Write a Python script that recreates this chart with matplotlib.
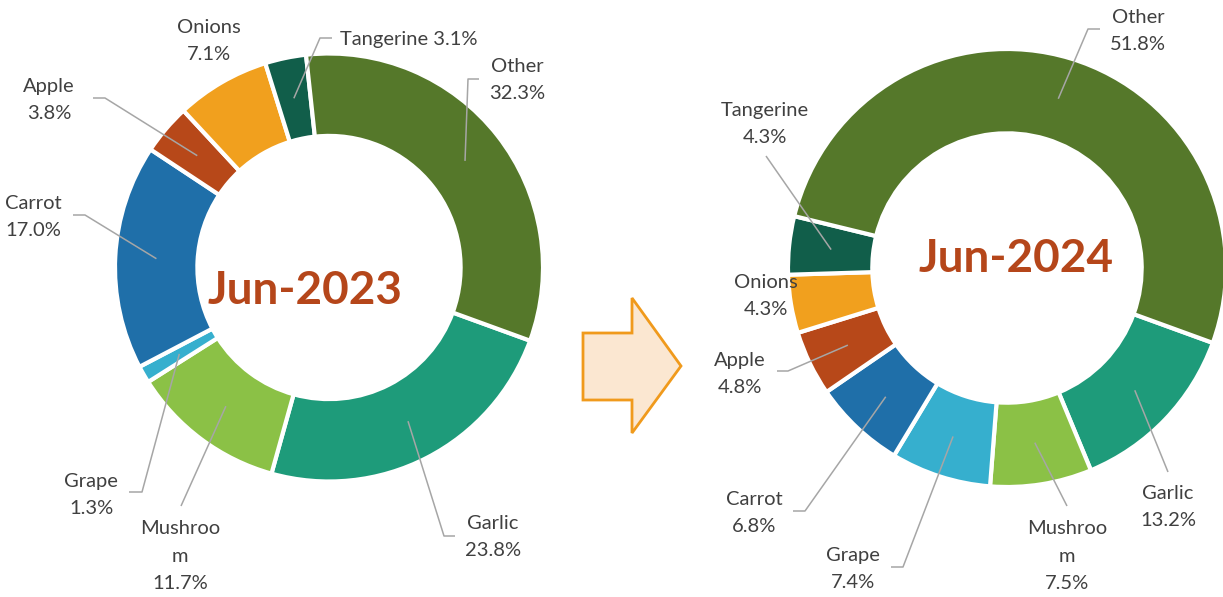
import numpy as np
import matplotlib.pyplot as plt
from matplotlib.patches import Polygon

# data (clockwise from the first slice, same order in both charts)
categories = ["Garlic", "Mushroom", "Grape", "Carrot", "Apple", "Onions", "Tangerine", "Other"]
share_2023 = [23.8, 11.7, 1.3, 17.0, 3.8, 7.1, 3.1, 32.3]
share_2024 = [13.2, 7.5, 7.4, 6.8, 4.8, 4.3, 4.3, 51.8]
titles = ["Jun-2023", "Jun-2024"]

colors = ["#1E9B7A", "#8BC146", "#36AFCE", "#1F6FA9", "#B74819", "#F1A01E", "#115E4A", "#55782A"]

# layout in pixel coords (y down): label centre, elbow point, end of horizontal tail
layout_2023 = {
    "Garlic":    dict(text=(493, 537), elbow=(444, 536), tail=455),
    "Mushroom":  dict(text=(180, 556), elbow=(181, 506), tail=None),
    "Grape":     dict(text=(91, 495), elbow=(142, 492), tail=129),
    "Carrot":    dict(text=(33, 217), elbow=(85, 215), tail=73),
    "Apple":     dict(text=(49, 100), elbow=(105, 98), tail=93),
    "Onions":    dict(text=(209, 41), elbow=None, tail=None),
    "Tangerine": dict(text=(409, 39), elbow=(320, 38), tail=332, oneline=True),
    "Other":     dict(text=(517, 80), elbow=(468, 79), tail=479),
}
layout_2024 = {
    "Garlic":    dict(text=(1168, 507), elbow=(1168, 472), tail=None),
    "Mushroom":  dict(text=(1067, 556), elbow=(1067, 506), tail=None),
    "Grape":     dict(text=(853, 569), elbow=(903, 567), tail=891),
    "Carrot":    dict(text=(754, 513), elbow=(805, 511), tail=793),
    "Apple":     dict(text=(740, 374), elbow=(788, 371), tail=777),
    "Onions":    dict(text=(766, 296), elbow=None, tail=None),
    "Tangerine": dict(text=(765, 124), elbow=(766, 156), tail=None),
    "Other":     dict(text=(1138, 31), elbow=(1088, 29), tail=1100),
}

plt.rcParams['font.family'] = ['Lato', 'DejaVu Sans']
text_color = "#404040"
line_color = "#A6A6A6"

fig = plt.figure(figsize=(12.23, 5.97), dpi=100)
ax = fig.add_axes([0, 0, 1, 1])

charts = [
    dict(values=share_2023, center=(329, 267.5), radius=214, layout=layout_2023,
         title=titles[0], title_pos=(305, 304)),
    dict(values=share_2024, center=(1007, 268), radius=219, layout=layout_2024,
         title=titles[1], title_pos=(1016, 272)),
]

ring = 0.385
for ch in charts:
    cx, cy = ch["center"]
    r = ch["radius"]
    # y axis is inverted below, so counterclock=True shows clockwise on screen
    wedges, _ = ax.pie(ch["values"], colors=colors, center=(cx, cy), radius=r,
                       startangle=20, counterclock=True,
                       wedgeprops=dict(width=r * ring, edgecolor="white", linewidth=3))
    r_mid = r * (1 - ring / 2)
    for w, name, val in zip(wedges, categories, ch["values"]):
        lay = ch["layout"][name]
        label = name.replace("Mushroom", "Mushroo\nm")
        sep = " " if lay.get("oneline") else "\n"
        ax.text(*lay["text"], f"{label}{sep}{val:.1f}%", ha="center", va="center",
                fontsize=14.5, color=text_color, linespacing=1.75)
        if lay["elbow"] is None:
            continue
        ang = np.deg2rad((w.theta1 + w.theta2) / 2)
        sx, sy = cx + r_mid * np.cos(ang), cy + r_mid * np.sin(ang)
        ex, ey = lay["elbow"]
        xs, ys = [sx, ex], [sy, ey]
        if lay["tail"] is not None:
            xs.append(lay["tail"])
            ys.append(ey)
        ax.plot(xs, ys, color=line_color, lw=1.1, solid_capstyle="butt")
    ax.text(*ch["title_pos"], ch["title"], ha="center", va="baseline",
            fontsize=33, fontweight="bold", color="#B5461A")

# block arrow between the two charts
arrow = Polygon([(583, 333), (632, 333), (632, 298), (681, 366), (632, 433),
                 (632, 400), (583, 400)], closed=True,
                facecolor="#FBE7D1", edgecolor="#F09A1C", linewidth=2, joinstyle="miter")
ax.add_patch(arrow)

ax.set_xlim(0, 1223)
ax.set_ylim(597, 0)
ax.set_aspect("equal")
ax.axis("off")

fig.savefig("out.png", dpi=100)
